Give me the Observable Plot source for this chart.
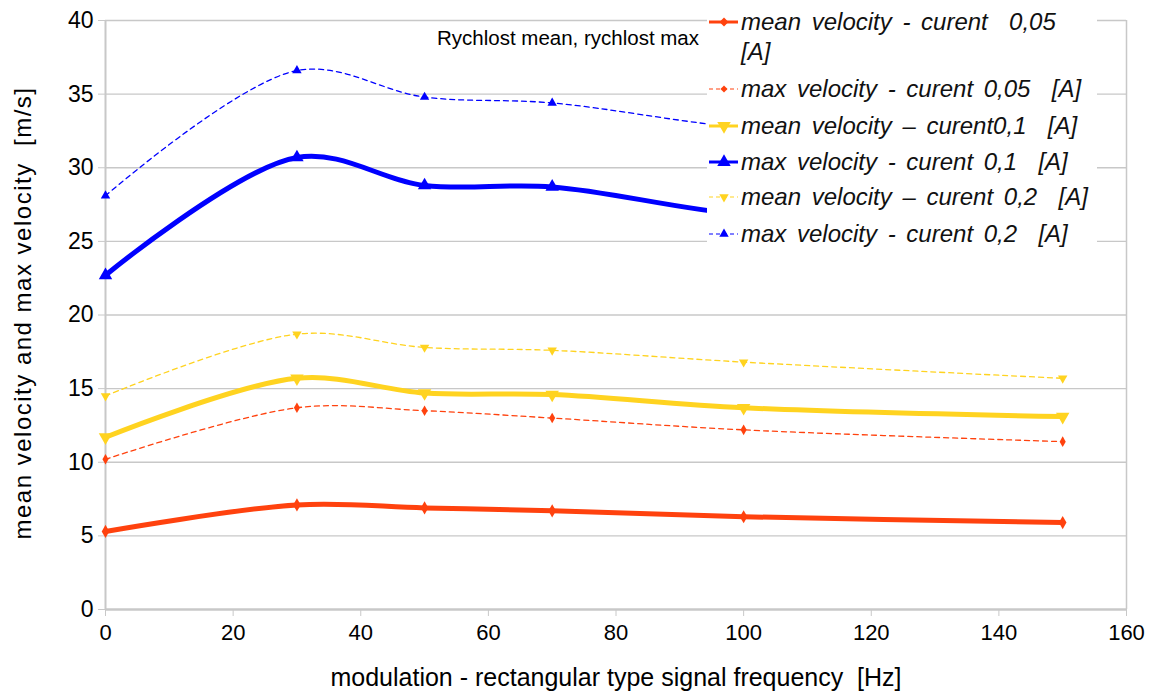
<!DOCTYPE html>
<html>
<head>
<meta charset="utf-8">
<script src="https://cdn.jsdelivr.net/npm/d3@7"></script>
<script src="https://cdn.jsdelivr.net/npm/@observablehq/plot@0.6"></script>
<style>
  body { margin: 0; background: white; }
  #wrap { position: relative; width: 1153px; height: 693px; font-family: "Liberation Sans", Arial, sans-serif; }
  #title { position: absolute; left: 437px; top: 26px; font-size: 20.5px; color: #000; white-space: nowrap; }
  #ylabel { position: absolute; left: 23px; top: 313px; font-size: 24px; letter-spacing: 1.5px; color: #000; white-space: pre;
            line-height: 26px; transform: translate(-50%, -50%) rotate(-90deg); }
  #legend { position: absolute; left: 707px; top: 4px; width: 390px; height: 248px; background: white; }
  .entry { position: absolute; left: 0; font-style: italic; font-size: 24px; color: #111; white-space: nowrap; word-spacing: 4px; }
  .entry svg { position: absolute; left: 0; top: 4px; }
  .entry span { position: absolute; left: 34px; line-height: 30px; }
  g[aria-label="y-axis tick label"] { font-size: 23px; }
  g[aria-label="x-axis tick label"] { font-size: 22px; }
  g[aria-label="x-axis label"] { font-size: 25px; }
</style>
</head>
<body>
<div id="wrap">
  <div id="chart"></div>
  <div id="title">Rychlost mean, rychlost max</div>
  <div id="ylabel"></div>
  <div id="legend"></div>
</div>
<script>
// ---- data ----
const freqs = [0, 30, 50, 70, 100, 150];
const meanCur005 = [5.3, 7.1, 6.9, 6.7, 6.3, 5.9];
const maxCur005  = [10.2, 13.7, 13.5, 13.0, 12.2, 11.4];
const meanCur01  = [11.7, 15.7, 14.7, 14.6, 13.7, 13.1];
const maxCur01   = [22.7, 30.7, 28.8, 28.7, 26.8, 25.8];
const meanCur02  = [14.5, 18.7, 17.8, 17.6, 16.8, 15.7];
const maxCur02   = [28.1, 36.6, 34.8, 34.4, 32.7, 31.3];
const seriesNames = [
  "mean velocity - curent  0,05 [A]",
  "max velocity - curent 0,05  [A]",
  "mean velocity \u2013 curent0,1  [A]",
  "max velocity - curent 0,1  [A]",
  "mean velocity \u2013 curent 0,2  [A]",
  "max velocity - curent 0,2  [A]"
];
const xTicks = [0, 20, 40, 60, 80, 100, 120, 140, 160];
const yTicks = [0, 5, 10, 15, 20, 25, 30, 35, 40];
const xLabel = "modulation - rectangular type signal frequency  [Hz]";
const yLabel = "mean velocity and max velocity  [m/s]";

const orange = "#ff420e", yellow = "#ffd320", blue = "#0000ff";
const styles = [
  {values: meanCur005, color: orange, width: 5, dash: null, symbol: "diamond", r: 4, rotate: 0},
  {values: maxCur005, color: orange, width: 1.3, dash: "5,4", symbol: "diamond", r: 3.2, rotate: 0},
  {values: meanCur01, color: yellow, width: 5, dash: null, symbol: "triangle", r: 5, rotate: 180},
  {values: maxCur01, color: blue, width: 5, dash: null, symbol: "triangle", r: 5, rotate: 0},
  {values: meanCur02, color: yellow, width: 1.3, dash: "5,4", symbol: "triangle", r: 3.5, rotate: 180},
  {values: maxCur02, color: blue, width: 1.3, dash: "5,4", symbol: "triangle", r: 3.5, rotate: 0}
];

const rows = s => freqs.map((f, i) => ({x: f, y: s.values[i]}));

const marks = [
  Plot.gridY({ticks: yTicks.filter(d => d > 0), stroke: "#c8c8c8", strokeOpacity: 1, strokeWidth: 1.3}),
  Plot.ruleX([160], {stroke: "#c8c8c8", strokeWidth: 1.5}),
  Plot.ruleX([0], {stroke: "#c8c8c8", strokeWidth: 2}),
  Plot.ruleY([0], {stroke: "#c8c8c8", strokeWidth: 2.5}),
  Plot.axisY({ticks: yTicks, tickSize: 7, tickPadding: 5, stroke: "#c8c8c8", fill: "#000", fontSize: 23,
    label: null, tickFormat: d => String(d)}),
  Plot.axisX({ticks: xTicks, tickSize: 7, tickPadding: 8, stroke: "#c8c8c8", fill: "#000", fontSize: 22,
    label: null, tickFormat: d => String(d)}),
  Plot.axisX({ticks: [], fontSize: 25, fill: "#000",
    label: xLabel, labelAnchor: "center", labelOffset: 76, labelArrow: "none"})
];
// thin dashed first, then thick
const order = [1, 4, 5, 0, 2, 3];
for (const k of order) {
  const s = styles[k];
  marks.push(Plot.line(rows(s), {x: "x", y: "y", curve: "catmull-rom", stroke: s.color, strokeWidth: s.width,
    strokeDasharray: s.dash || undefined}));
}
for (const k of order) {
  const s = styles[k];
  marks.push(Plot.dot(rows(s), {x: "x", y: "y", symbol: s.symbol, r: s.r, fill: s.color, stroke: "none", rotate: s.rotate}));
}

const chart = Plot.plot({
  width: 1153, height: 693,
  marginLeft: 105, marginRight: 27, marginTop: 20, marginBottom: 84,
  style: {fontFamily: "'Liberation Sans', Arial, sans-serif", background: "white", color: "#000"},
  x: {domain: [0, 160]},
  y: {domain: [0, 40]},
  marks
});
document.getElementById("chart").appendChild(chart);
document.getElementById("ylabel").textContent = yLabel;

// ---- legend ----
const legend = document.getElementById("legend");
const entryY = [18, 85, 122, 158, 193, 230];
const symbolPath = (name, r) => {
  const area = Math.PI * r * r;
  return d3.symbol(name === "diamond" ? d3.symbolDiamond2 : d3.symbolTriangle, area)();
};
styles.forEach((s, i) => {
  const div = document.createElement("div");
  div.className = "entry";
  div.style.top = (entryY[i] - 15) + "px";
  div.style.height = "30px";
  div.style.width = "390px";
  const lw = s.width > 2 ? 3 : 1.2;
  const svg = `<svg width="34" height="22" viewBox="0 0 34 22">
    <line x1="2" x2="31" y1="11" y2="11" stroke="${s.color}" stroke-width="${lw}" ${s.dash ? 'stroke-dasharray="4,3"' : ''}/>
    <path d="${symbolPath(s.symbol, s.r)}" transform="translate(17,11) rotate(${s.rotate})" fill="${s.color}"/>
  </svg>`;
  const label = i === 0 ? "mean velocity - curent&nbsp; 0,05<br>[A]" : seriesNames[i].replace(/  /g, "&nbsp; ");
  div.innerHTML = svg + `<span style="top:0">${label}</span>`;
  legend.appendChild(div);
});
</script>
</body>
</html>
